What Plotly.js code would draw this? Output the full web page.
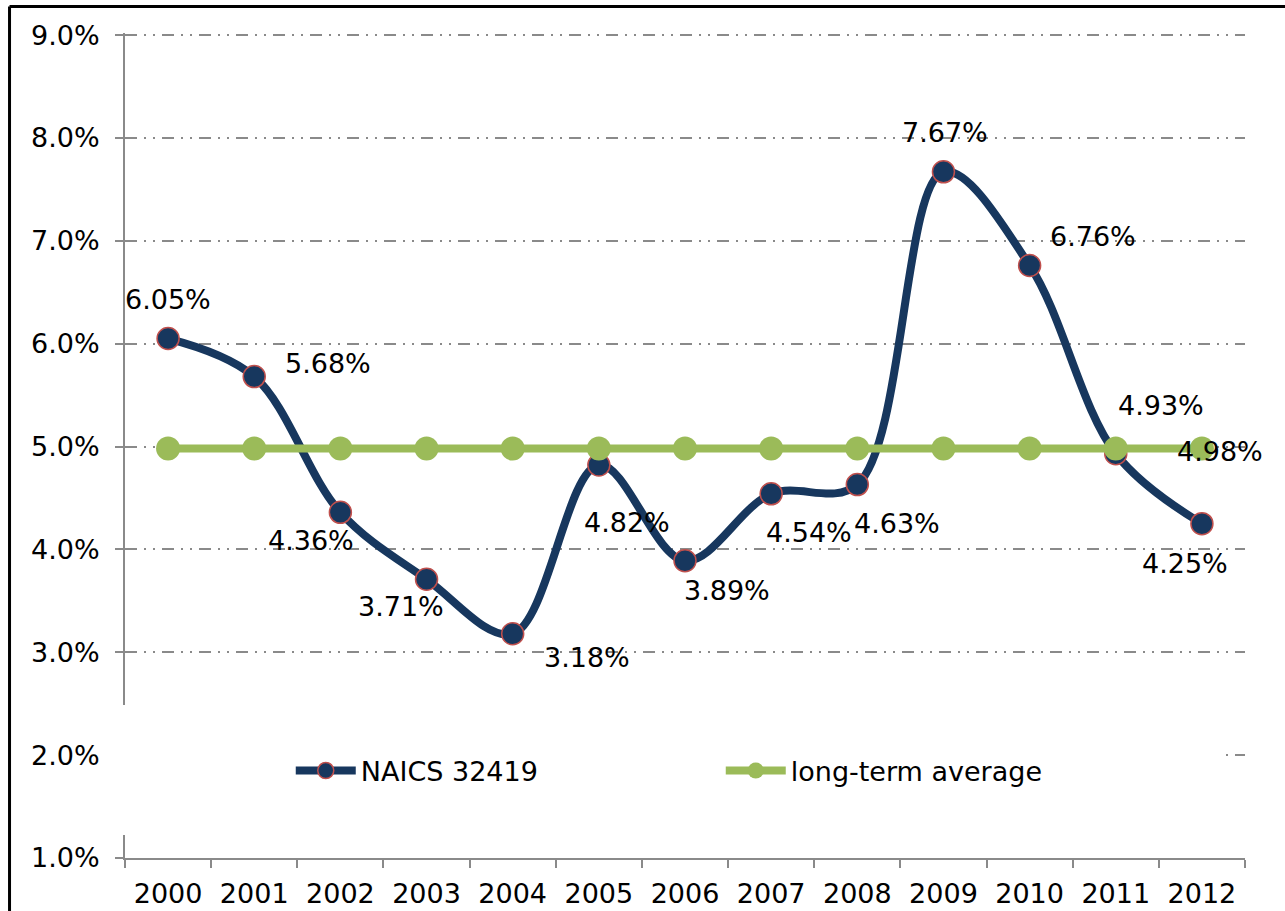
<!DOCTYPE html>
<html>
<head>
<meta charset="utf-8">
<script src="https://cdn.plot.ly/plotly-3.0.1.min.js"></script>
<style>
  html, body { margin: 0; padding: 0; background: #fff; }
  #chart { width: 1285px; height: 911px; }
</style>
</head>
<body>
<div id="chart"></div>
<script>
// ---- data ----
const years = ["2000","2001","2002","2003","2004","2005","2006","2007","2008","2009","2010","2011","2012"];
const naics = [6.05, 5.68, 4.36, 3.71, 3.18, 4.82, 3.89, 4.54, 4.63, 7.67, 6.76, 4.93, 4.25];
const longTermAverage = [4.98, 4.98, 4.98, 4.98, 4.98, 4.98, 4.98, 4.98, 4.98, 4.98, 4.98, 4.98, 4.98];
const seriesNames = ["NAICS 32419", "long-term average"];

// ---- label placement (pixel offsets from each point) ----
const naicsLabelOffsets = [
  [0, 39], [74, 13], [-29, -28], [-26, -27], [74, -24], [28, -57], [42, -30],
  [38, -39], [40, -39], [2, 39], [63, 29], [45, 48], [-17, -40]
];
const avgLabelOffset = [18, -3];

const FONT = "DejaVu Sans, Verdana, sans-serif";
const FS = 27;
const navy = "#17375e";
const red = "#c0504d";
const green = "#9bbb59";
const grid = "#8a8a8a";

const traces = [
  {
    x: years, y: naics, name: seriesNames[0], type: "scatter", mode: "lines+markers",
    line: { color: navy, width: 8, shape: "spline", smoothing: 1 },
    marker: { color: navy, size: 22, line: { color: red, width: 1.5 } }
  },
  {
    x: years, y: longTermAverage, name: seriesNames[1], type: "scatter", mode: "lines+markers",
    line: { color: green, width: 8 },
    marker: { color: green, size: 24 }
  }
];

// category axis: annotations placed by category index
const annotations = naics.map((v, i) => ({
  x: i, y: v, xref: "x", yref: "y",
  text: v.toFixed(2) + "%", showarrow: false,
  xshift: naicsLabelOffsets[i][0], yshift: naicsLabelOffsets[i][1],
  font: { family: FONT, size: FS, color: "#000" }
}));
const last = years.length - 1;
annotations.push({
  x: last, y: longTermAverage[last], xref: "x", yref: "y",
  text: longTermAverage[last].toFixed(2) + "%", showarrow: false,
  xshift: avgLabelOffset[0], yshift: avgLabelOffset[1],
  font: { family: FONT, size: FS, color: "#000" }
});

const layout = {
  width: 1285, height: 911,
  margin: { l: 125, r: 40, t: 33, b: 53, pad: 0 },
  paper_bgcolor: "#fff", plot_bgcolor: "#fff",
  font: { family: FONT, size: FS, color: "#000" },
  showlegend: true,
  legend: {
    orientation: "h", x: 0.148, xanchor: "left", y: 0.1055, yanchor: "middle",
    bgcolor: "rgba(0,0,0,0)", font: { family: FONT, size: FS, color: "#000" },
    entrywidth: 355, entrywidthmode: "pixels", itemwidth: 60
  },
  xaxis: {
    type: "category", range: [-0.5, 12.5],
    showline: true, linecolor: grid, linewidth: 2,
    ticks: "outside", tickson: "boundaries", ticklen: 8, tickwidth: 2, tickcolor: grid,
    showgrid: false, zeroline: false,
    tickfont: { family: FONT, size: FS, color: "#000" },
    ticklabelstandoff: 11, fixedrange: true
  },
  yaxis: {
    range: [1, 9.02], dtick: 1, tick0: 1, tickformat: ".1f", ticksuffix: "%",
    showline: true, linecolor: grid, linewidth: 2,
    ticks: "outside", ticklen: 8, tickwidth: 2, tickcolor: grid,
    showgrid: true, gridcolor: grid, gridwidth: 2, griddash: "12px,7px,2px,7px,2px,7px",
    zeroline: false,
    tickfont: { family: FONT, size: FS, color: "#000" },
    ticklabelstandoff: 10, fixedrange: true
  },
  annotations: annotations,
  shapes: [
    // white legend panel covering grid/axis
    { type: "rect", xref: "paper", yref: "paper", x0: -0.009, x1: 0.982, y0: 0.0279, y1: 0.1855,
      fillcolor: "#fff", line: { width: 0 }, layer: "above" },
    // outer frame (top and left edges)
    { type: "line", xref: "paper", yref: "paper", x0: -0.1031, x1: 1.2, y0: 1.0321, y1: 1.0321,
      line: { color: "#000", width: 3 } },
    { type: "line", xref: "paper", yref: "paper", x0: -0.1031, x1: -0.1031, y0: -0.2, y1: 1.0321,
      line: { color: "#000", width: 3 } }
  ]
};

Plotly.newPlot("chart", traces, layout, { displayModeBar: false, staticPlot: true });
</script>
</body>
</html>
